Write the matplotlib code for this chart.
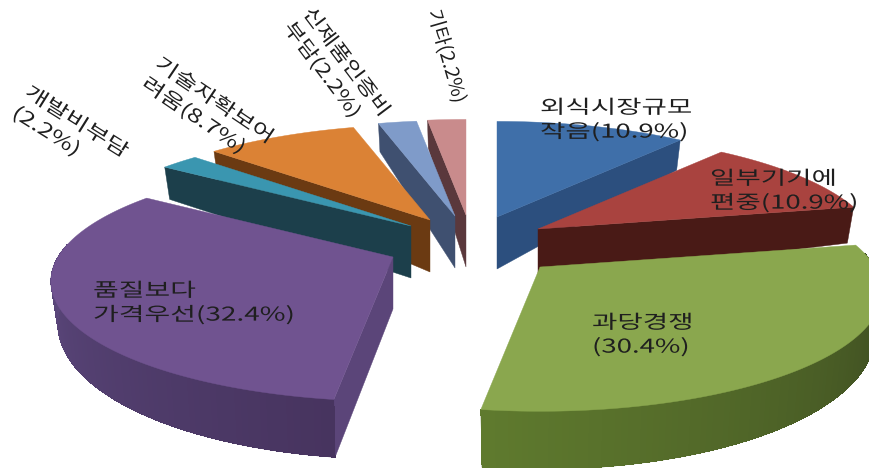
import numpy as np
import matplotlib
matplotlib.use("Agg")
import matplotlib.pyplot as plt
import matplotlib.patches as mpatches
from matplotlib.patheffects import AbstractPathEffect
from matplotlib.transforms import Affine2D

plt.rcParams['font.family'] = ['Noto Sans CJK KR', 'DejaVu Sans']

# clockwise from 12 o'clock
labels = ["외식시장규모\n작음(10.9%)", "일부기기에\n편중(10.9%)", "과당경쟁\n(30.4%)",
          "품질보다\n가격우선(32.4%)", "개발비부담\n(2.2%)", "기술자확보어\n려움(8.7%)",
          "신제품인증비\n부담(2.2%)", "기타(2.2%)"]
values = [10.9, 10.9, 30.4, 32.4, 2.2, 8.7, 2.2, 2.2]

top_colors = ["#3F6FA9", "#A9433F", "#8AA74E", "#705390", "#3A96B0", "#DB8235", "#7F9BC9", "#C98B8C"]
side_colors = ["#2C4F7E", "#491A16", "#5F7A2E", "#5E4A80", "#1C3F4B", "#6B3A12", "#3F5070", "#5A383C"]
side_dark = ["#2C4F7E", "#491A16", "#36431E", "#47345F", "#1C3F4B", "#6B3A12", "#3F5070", "#5A383C"]

# pixel position of each slice's tip after exploding
tips = [(497, 217), (538, 229), (540, 267), (393, 257),
        (411, 226), (430, 220), (455, 216), (466, 215)]

# painter's order, far slices first
draw_order = [7, 6, 5, 4, 3, 0, 1, 2]

# perspective of the pie plane
RX, RY, PERSP = 335.0, 115.0, 0.203
TIP_DEPTH = 52.0


class StretchText(AbstractPathEffect):
    """Widen glyphs along the baseline."""

    def __init__(self, factor):
        super().__init__()
        self.factor = factor

    def draw_path(self, renderer, gc, tpath, affine, rgbFace=None):
        renderer.draw_path(gc, tpath, Affine2D().scale(self.factor, 1) + affine, rgbFace)


def project(theta):
    u, v = np.sin(theta), np.cos(theta)
    w = 1 + PERSP * v
    return RX * u / w, -RY * v / w


def rim_depth(theta):
    v = np.cos(theta)
    return 38 - 20 * v if v < 0 else 38 - 10 * v


def lerp_color(c1, c2, t):
    a = np.array(matplotlib.colors.to_rgb(c1))
    b = np.array(matplotlib.colors.to_rgb(c2))
    return a + (b - a) * t


fig = plt.figure(figsize=(8.69, 4.68), dpi=100)
ax = fig.add_axes([0, 0, 1, 1])
ax.set_xlim(0, 869)
ax.set_ylim(468, 0)
ax.axis('off')

angles = np.radians(np.concatenate([[0], np.cumsum(values)]) / np.sum(values) * 360)


def top_point(tip, theta):
    sx, sy = project(theta)
    return tip[0] + sx, tip[1] + sy


def bottom_point(tip, theta):
    sx, sy = project(theta)
    return tip[0] + sx * 0.98, tip[1] + sy + rim_depth(theta)


def radial_wall(tip, theta, color):
    corners = [tip, top_point(tip, theta), bottom_point(tip, theta), (tip[0], tip[1] + TIP_DEPTH)]
    ax.add_patch(mpatches.Polygon(corners, closed=True, facecolor=color, edgecolor=color, linewidth=0.3))


for i in draw_order:
    tip = tips[i]
    start, end = angles[i], angles[i + 1]

    # only walls turned towards the viewer
    if start >= np.pi:
        radial_wall(tip, start, side_colors[i] if i != 3 else "#5B4579")
    if end < np.pi / 2:
        radial_wall(tip, end, side_colors[i])

    arc = np.linspace(start, end, 120)
    rim = [a for a in arc if np.cos(a) <= 0.12]
    if len(rim) > 1:
        # smooth silhouette under the shaded strips
        mid = lerp_color(side_colors[i], side_dark[i], 0.5)
        shape = [top_point(tip, a) for a in rim] + [bottom_point(tip, a) for a in rim[::-1]]
        ax.add_patch(mpatches.Polygon(shape, closed=True, facecolor=mid, edgecolor=mid, linewidth=0.4))
        for a, b, t in zip(rim[:-1], rim[1:], np.linspace(0, 1, len(rim) - 1)):
            # the rim gets darker going back along the sweep
            color = lerp_color(side_colors[i], side_dark[i], 1 - t)
            quad = [top_point(tip, a), top_point(tip, b), bottom_point(tip, b), bottom_point(tip, a)]
            ax.add_patch(mpatches.Polygon(quad, closed=True, facecolor=color, edgecolor='none',
                                          linewidth=0, antialiased=False))

    outline = [tip] + [top_point(tip, t) for t in arc]
    ax.add_patch(mpatches.Polygon(outline, closed=True, facecolor=top_colors[i], edgecolor=top_colors[i], linewidth=0.3))

# label anchors, text angle and glyph widening for each slice
label_x = [540, 710, 592, 93, 20, 150, 297, 433]
label_y = [120, 191, 335, 303, 101, 72, 17, 10]
label_rot = [0, 0, 0, 0, -32, -34, -53, -74]
label_stretch = [1.45, 1.45, 1.45, 1.47, 1.35, 1.32, 1.25, 1.05]

for text, x, y, rot, stretch in zip(labels, label_x, label_y, label_rot, label_stretch):
    t = ax.text(x, y, text, fontsize=13.7, color="#1f1f1f", ha='left', va='center', multialignment='left',
                rotation=rot, rotation_mode='anchor', linespacing=1.2)
    t.set_path_effects([StretchText(stretch)])

fig.savefig("out.png", dpi=100)
